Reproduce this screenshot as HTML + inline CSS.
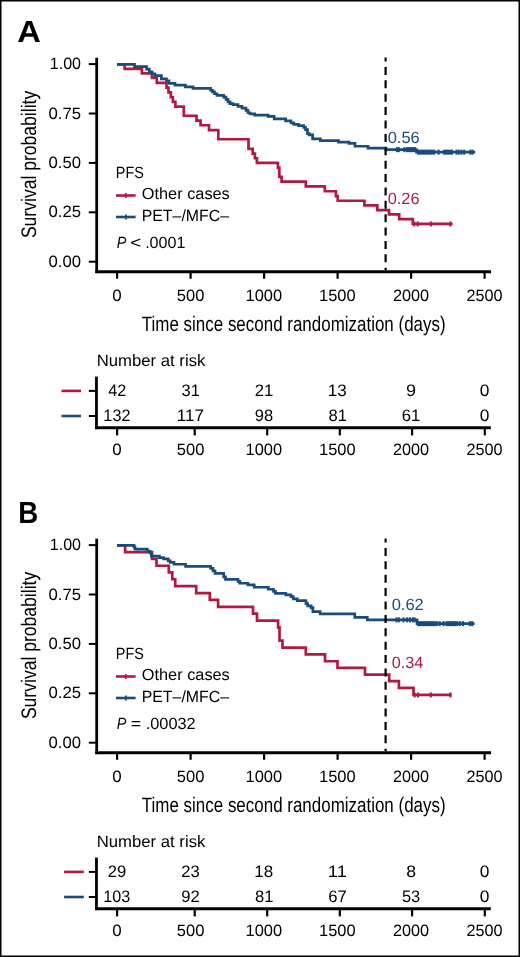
<!DOCTYPE html>
<html><head><meta charset="utf-8"><style>
html,body{margin:0;padding:0;background:#fff;}
svg{display:block;will-change:transform;}
text{font-family:"Liberation Sans",sans-serif;text-rendering:geometricPrecision;}
</style></head><body>
<svg width="520" height="957" viewBox="0 0 520 957">
<rect x="0" y="0" width="520" height="957" fill="#fff"/>
<text x="17.29" y="41.90" font-size="30.5" font-weight="bold" font-style="normal" fill="#000" textLength="23.57" lengthAdjust="spacingAndGlyphs">A</text>
<text transform="translate(35.50,237.30) rotate(-90)" x="-0.80" y="0" font-size="21" fill="#000" textLength="147.33" lengthAdjust="spacingAndGlyphs">Survival probability</text>
<line x1="88.80" y1="64.10" x2="96.50" y2="64.10" stroke="#000" stroke-width="2.0"/>
<text x="49.78" y="69.20" font-size="16.5" font-weight="normal" font-style="normal" fill="#000" textLength="31.25" lengthAdjust="spacingAndGlyphs">1.00</text>
<line x1="88.80" y1="113.50" x2="96.50" y2="113.50" stroke="#000" stroke-width="2.0"/>
<text x="48.55" y="118.60" font-size="16.5" font-weight="normal" font-style="normal" fill="#000" textLength="32.56" lengthAdjust="spacingAndGlyphs">0.75</text>
<line x1="88.80" y1="162.90" x2="96.50" y2="162.90" stroke="#000" stroke-width="2.0"/>
<text x="48.55" y="168.00" font-size="16.5" font-weight="normal" font-style="normal" fill="#000" textLength="32.50" lengthAdjust="spacingAndGlyphs">0.50</text>
<line x1="88.80" y1="212.30" x2="96.50" y2="212.30" stroke="#000" stroke-width="2.0"/>
<text x="48.55" y="217.40" font-size="16.5" font-weight="normal" font-style="normal" fill="#000" textLength="32.56" lengthAdjust="spacingAndGlyphs">0.25</text>
<line x1="88.80" y1="261.70" x2="96.50" y2="261.70" stroke="#000" stroke-width="2.0"/>
<text x="48.55" y="266.80" font-size="16.5" font-weight="normal" font-style="normal" fill="#000" textLength="32.50" lengthAdjust="spacingAndGlyphs">0.00</text>
<line x1="96.70" y1="57.70" x2="96.70" y2="273.10" stroke="#000" stroke-width="2.8"/>
<line x1="95.30" y1="271.70" x2="491.00" y2="271.70" stroke="#000" stroke-width="2.9"/>
<line x1="117.10" y1="271.00" x2="117.10" y2="278.80" stroke="#000" stroke-width="2.2"/>
<text x="112.39" y="300.50" font-size="16.5" font-weight="normal" font-style="normal" fill="#000" textLength="9.42" lengthAdjust="spacingAndGlyphs">0</text>
<line x1="190.60" y1="271.00" x2="190.60" y2="278.80" stroke="#000" stroke-width="2.2"/>
<text x="176.79" y="300.50" font-size="16.5" font-weight="normal" font-style="normal" fill="#000" textLength="27.61" lengthAdjust="spacingAndGlyphs">500</text>
<line x1="264.10" y1="271.00" x2="264.10" y2="278.80" stroke="#000" stroke-width="2.2"/>
<text x="245.50" y="300.50" font-size="16.5" font-weight="normal" font-style="normal" fill="#000" textLength="36.60" lengthAdjust="spacingAndGlyphs">1000</text>
<line x1="337.60" y1="271.00" x2="337.60" y2="278.80" stroke="#000" stroke-width="2.2"/>
<text x="319.00" y="300.50" font-size="16.5" font-weight="normal" font-style="normal" fill="#000" textLength="36.60" lengthAdjust="spacingAndGlyphs">1500</text>
<line x1="411.10" y1="271.00" x2="411.10" y2="278.80" stroke="#000" stroke-width="2.2"/>
<text x="392.93" y="300.50" font-size="16.5" font-weight="normal" font-style="normal" fill="#000" textLength="36.15" lengthAdjust="spacingAndGlyphs">2000</text>
<line x1="484.60" y1="271.00" x2="484.60" y2="278.80" stroke="#000" stroke-width="2.2"/>
<text x="466.43" y="300.50" font-size="16.5" font-weight="normal" font-style="normal" fill="#000" textLength="36.15" lengthAdjust="spacingAndGlyphs">2500</text>
<text x="141.82" y="330.50" font-size="20.9" font-weight="normal" font-style="normal" fill="#000" textLength="303.83" lengthAdjust="spacingAndGlyphs">Time since second randomization (days)</text>
<path d="M117.10,64.45H124.70V68.95H141.90V73.35H152.00V77.95H156.80V82.95H166.50V87.65H168.50V92.35H170.80V97.15H172.90V101.85H175.40V106.55H183.80V115.75H196.50V120.55H200.60V125.25H209.00V130.15H218.30V139.25H248.50V148.95H252.70V153.65H254.90V158.25H256.90V162.85H277.90V167.55H279.30V176.95H281.60V181.65H305.80V186.35H324.80V191.25H335.90V196.05H337.70V200.75H364.40V205.35H377.30V210.05H389.00V214.35H399.20V219.15H412.80V223.95H452.50" fill="none" stroke="#b01a42" stroke-width="2.7" stroke-linejoin="miter" stroke-linecap="butt"/>
<path d="M117.10,64.45H134.50V66.65H146.60V69.15H149.30V71.85H152.00V73.85H155.00V75.55H161.40V78.85H166.50V80.85H169.00V83.35H175.00V85.15H185.40V86.85H193.00V88.35H210.60V90.25H212.50V91.85H214.50V93.75H217.00V95.45H223.80V97.15H226.00V99.35H228.00V101.85H230.00V103.55H233.00V104.65H238.00V106.45H242.00V108.15H246.00V110.45H248.00V112.75H250.00V113.95H254.70V115.05H268.20V116.35H274.20V118.85H285.70V120.85H291.00V122.85H293.70V124.45H298.50V125.55H303.80V127.35H305.50V129.55H307.50V133.65H309.20V134.95H312.60V138.95H320.40V140.55H338.50V142.15H349.00V143.35H355.00V146.25H368.00V148.15H386.00V149.65H416.50V152.15H475.20" fill="none" stroke="#1a4c7a" stroke-width="2.7" stroke-linejoin="miter" stroke-linecap="butt"/>
<line x1="414.30" y1="221.45" x2="414.30" y2="226.45" stroke="#b01a42" stroke-width="2.1"/>
<line x1="417.70" y1="221.45" x2="417.70" y2="226.45" stroke="#b01a42" stroke-width="2.1"/>
<line x1="430.90" y1="221.45" x2="430.90" y2="226.45" stroke="#b01a42" stroke-width="2.1"/>
<line x1="450.50" y1="221.45" x2="450.50" y2="226.45" stroke="#b01a42" stroke-width="2.1"/>
<line x1="397.00" y1="147.15" x2="397.00" y2="152.15" stroke="#1a4c7a" stroke-width="2.1"/>
<line x1="398.80" y1="147.15" x2="398.80" y2="152.15" stroke="#1a4c7a" stroke-width="2.1"/>
<line x1="404.40" y1="147.15" x2="404.40" y2="152.15" stroke="#1a4c7a" stroke-width="2.1"/>
<line x1="407.00" y1="147.15" x2="407.00" y2="152.15" stroke="#1a4c7a" stroke-width="2.1"/>
<line x1="408.60" y1="147.15" x2="408.60" y2="152.15" stroke="#1a4c7a" stroke-width="2.1"/>
<line x1="410.20" y1="147.15" x2="410.20" y2="152.15" stroke="#1a4c7a" stroke-width="2.1"/>
<line x1="411.80" y1="147.15" x2="411.80" y2="152.15" stroke="#1a4c7a" stroke-width="2.1"/>
<line x1="413.40" y1="147.15" x2="413.40" y2="152.15" stroke="#1a4c7a" stroke-width="2.1"/>
<line x1="415.00" y1="147.15" x2="415.00" y2="152.15" stroke="#1a4c7a" stroke-width="2.1"/>
<line x1="434.20" y1="149.65" x2="434.20" y2="154.65" stroke="#1a4c7a" stroke-width="2.1"/>
<line x1="438.60" y1="149.65" x2="438.60" y2="154.65" stroke="#1a4c7a" stroke-width="2.1"/>
<line x1="456.60" y1="149.65" x2="456.60" y2="154.65" stroke="#1a4c7a" stroke-width="2.1"/>
<line x1="458.80" y1="149.65" x2="458.80" y2="154.65" stroke="#1a4c7a" stroke-width="2.1"/>
<line x1="461.50" y1="149.65" x2="461.50" y2="154.65" stroke="#1a4c7a" stroke-width="2.1"/>
<line x1="464.20" y1="149.65" x2="464.20" y2="154.65" stroke="#1a4c7a" stroke-width="2.1"/>
<line x1="470.30" y1="149.65" x2="470.30" y2="154.65" stroke="#1a4c7a" stroke-width="2.1"/>
<line x1="472.50" y1="149.65" x2="472.50" y2="154.65" stroke="#1a4c7a" stroke-width="2.1"/>
<rect x="417.00" y="149.65" width="16.00" height="5.00" fill="#1a4c7a"/>
<rect x="443.00" y="149.65" width="10.00" height="5.00" fill="#1a4c7a"/>
<line x1="385.60" y1="57.50" x2="385.60" y2="270.00" stroke="#000" stroke-width="2.2" stroke-dasharray="8 5.38" stroke-dashoffset="3.9"/>
<text x="387.66" y="142.85" font-size="16.2" font-weight="normal" font-style="normal" fill="#1a4c7a" textLength="32.07" lengthAdjust="spacingAndGlyphs">0.56</text>
<text x="387.66" y="204.45" font-size="16.2" font-weight="normal" font-style="normal" fill="#b01a42" textLength="31.86" lengthAdjust="spacingAndGlyphs">0.26</text>
<text x="115.82" y="177.90" font-size="16.2" font-weight="normal" font-style="normal" fill="#000" textLength="28.04" lengthAdjust="spacingAndGlyphs">PFS</text>
<line x1="116.00" y1="195.50" x2="135.60" y2="195.50" stroke="#b01a42" stroke-width="2.6"/>
<line x1="125.90" y1="193.10" x2="125.90" y2="198.00" stroke="#b01a42" stroke-width="1.8"/>
<text x="141.83" y="199.40" font-size="16.2" font-weight="normal" font-style="normal" fill="#000" textLength="87.96" lengthAdjust="spacingAndGlyphs">Other cases</text>
<line x1="116.00" y1="217.00" x2="135.60" y2="217.00" stroke="#1a4c7a" stroke-width="2.6"/>
<line x1="125.90" y1="214.60" x2="125.90" y2="219.40" stroke="#1a4c7a" stroke-width="1.8"/>
<text x="141.70" y="220.60" font-size="16.2" font-weight="normal" font-style="normal" fill="#000" textLength="87.31" lengthAdjust="spacingAndGlyphs">PET–/MFC–</text>
<text x="116.76" y="248.20" font-size="16.2" font-weight="normal" font-style="italic" fill="#000" textLength="9.64" lengthAdjust="spacingAndGlyphs">P</text>
<text x="130.17" y="248.00" font-size="16.2" font-weight="normal" font-style="normal" fill="#000" textLength="11.06" lengthAdjust="spacingAndGlyphs"><</text>
<text x="145.13" y="248.20" font-size="16.2" font-weight="normal" font-style="normal" fill="#000" textLength="40.25" lengthAdjust="spacingAndGlyphs">.0001</text>
<text x="96.73" y="365.80" font-size="16.5" font-weight="normal" font-style="normal" fill="#000" textLength="108.65" lengthAdjust="spacingAndGlyphs">Number at risk</text>
<line x1="96.45" y1="376.60" x2="96.45" y2="429.10" stroke="#000" stroke-width="2.8"/>
<line x1="95.05" y1="427.70" x2="490.80" y2="427.70" stroke="#000" stroke-width="2.9"/>
<line x1="88.80" y1="390.90" x2="96.50" y2="390.90" stroke="#000" stroke-width="2.0"/>
<line x1="88.80" y1="416.00" x2="96.50" y2="416.00" stroke="#000" stroke-width="2.0"/>
<line x1="61.50" y1="390.90" x2="81.00" y2="390.90" stroke="#b01a42" stroke-width="2.6"/>
<line x1="61.50" y1="416.00" x2="81.00" y2="416.00" stroke="#1a4c7a" stroke-width="2.6"/>
<text x="108.28" y="395.70" font-size="16.6" font-weight="normal" font-style="normal" fill="#000" textLength="18.09" lengthAdjust="spacingAndGlyphs">42</text>
<text x="103.37" y="420.50" font-size="16.6" font-weight="normal" font-style="normal" fill="#000" textLength="27.05" lengthAdjust="spacingAndGlyphs">132</text>
<line x1="117.10" y1="427.00" x2="117.10" y2="435.40" stroke="#000" stroke-width="2.2"/>
<text x="112.39" y="454.50" font-size="16.5" font-weight="normal" font-style="normal" fill="#000" textLength="9.42" lengthAdjust="spacingAndGlyphs">0</text>
<text x="181.52" y="395.70" font-size="16.6" font-weight="normal" font-style="normal" fill="#000" textLength="18.33" lengthAdjust="spacingAndGlyphs">31</text>
<text x="176.87" y="420.50" font-size="16.6" font-weight="normal" font-style="normal" fill="#000" textLength="27.05" lengthAdjust="spacingAndGlyphs">117</text>
<line x1="194.70" y1="427.00" x2="194.70" y2="435.40" stroke="#000" stroke-width="2.2"/>
<text x="176.79" y="454.50" font-size="16.5" font-weight="normal" font-style="normal" fill="#000" textLength="27.61" lengthAdjust="spacingAndGlyphs">500</text>
<text x="254.81" y="395.70" font-size="16.6" font-weight="normal" font-style="normal" fill="#000" textLength="18.55" lengthAdjust="spacingAndGlyphs">21</text>
<text x="254.87" y="420.50" font-size="16.6" font-weight="normal" font-style="normal" fill="#000" textLength="18.39" lengthAdjust="spacingAndGlyphs">98</text>
<line x1="267.20" y1="427.00" x2="267.20" y2="435.40" stroke="#000" stroke-width="2.2"/>
<text x="245.50" y="454.50" font-size="16.5" font-weight="normal" font-style="normal" fill="#000" textLength="36.60" lengthAdjust="spacingAndGlyphs">1000</text>
<text x="327.85" y="395.70" font-size="16.6" font-weight="normal" font-style="normal" fill="#000" textLength="18.95" lengthAdjust="spacingAndGlyphs">13</text>
<text x="328.43" y="420.50" font-size="16.6" font-weight="normal" font-style="normal" fill="#000" textLength="18.43" lengthAdjust="spacingAndGlyphs">81</text>
<line x1="339.80" y1="427.00" x2="339.80" y2="435.40" stroke="#000" stroke-width="2.2"/>
<text x="319.00" y="454.50" font-size="16.5" font-weight="normal" font-style="normal" fill="#000" textLength="36.60" lengthAdjust="spacingAndGlyphs">1500</text>
<text x="406.11" y="395.70" font-size="16.6" font-weight="normal" font-style="normal" fill="#000" textLength="9.99" lengthAdjust="spacingAndGlyphs">9</text>
<text x="401.80" y="420.50" font-size="16.6" font-weight="normal" font-style="normal" fill="#000" textLength="18.56" lengthAdjust="spacingAndGlyphs">61</text>
<line x1="412.10" y1="427.00" x2="412.10" y2="435.40" stroke="#000" stroke-width="2.2"/>
<text x="392.93" y="454.50" font-size="16.5" font-weight="normal" font-style="normal" fill="#000" textLength="36.15" lengthAdjust="spacingAndGlyphs">2000</text>
<text x="479.77" y="395.70" font-size="16.6" font-weight="normal" font-style="normal" fill="#000" textLength="9.66" lengthAdjust="spacingAndGlyphs">0</text>
<text x="479.77" y="420.50" font-size="16.6" font-weight="normal" font-style="normal" fill="#000" textLength="9.66" lengthAdjust="spacingAndGlyphs">0</text>
<line x1="484.80" y1="427.00" x2="484.80" y2="435.40" stroke="#000" stroke-width="2.2"/>
<text x="466.43" y="454.50" font-size="16.5" font-weight="normal" font-style="normal" fill="#000" textLength="36.15" lengthAdjust="spacingAndGlyphs">2500</text>
<text x="18.15" y="522.80" font-size="30.5" font-weight="bold" font-style="normal" fill="#000" textLength="20.01" lengthAdjust="spacingAndGlyphs">B</text>
<text transform="translate(35.50,718.30) rotate(-90)" x="-0.80" y="0" font-size="21" fill="#000" textLength="147.33" lengthAdjust="spacingAndGlyphs">Survival probability</text>
<line x1="88.80" y1="545.10" x2="96.50" y2="545.10" stroke="#000" stroke-width="2.0"/>
<text x="49.78" y="550.20" font-size="16.5" font-weight="normal" font-style="normal" fill="#000" textLength="31.25" lengthAdjust="spacingAndGlyphs">1.00</text>
<line x1="88.80" y1="594.50" x2="96.50" y2="594.50" stroke="#000" stroke-width="2.0"/>
<text x="48.55" y="599.60" font-size="16.5" font-weight="normal" font-style="normal" fill="#000" textLength="32.56" lengthAdjust="spacingAndGlyphs">0.75</text>
<line x1="88.80" y1="643.90" x2="96.50" y2="643.90" stroke="#000" stroke-width="2.0"/>
<text x="48.55" y="649.00" font-size="16.5" font-weight="normal" font-style="normal" fill="#000" textLength="32.50" lengthAdjust="spacingAndGlyphs">0.50</text>
<line x1="88.80" y1="693.30" x2="96.50" y2="693.30" stroke="#000" stroke-width="2.0"/>
<text x="48.55" y="698.40" font-size="16.5" font-weight="normal" font-style="normal" fill="#000" textLength="32.56" lengthAdjust="spacingAndGlyphs">0.25</text>
<line x1="88.80" y1="742.70" x2="96.50" y2="742.70" stroke="#000" stroke-width="2.0"/>
<text x="48.55" y="747.80" font-size="16.5" font-weight="normal" font-style="normal" fill="#000" textLength="32.50" lengthAdjust="spacingAndGlyphs">0.00</text>
<line x1="96.70" y1="538.70" x2="96.70" y2="754.10" stroke="#000" stroke-width="2.8"/>
<line x1="95.30" y1="752.70" x2="491.00" y2="752.70" stroke="#000" stroke-width="2.9"/>
<line x1="117.10" y1="752.00" x2="117.10" y2="759.80" stroke="#000" stroke-width="2.2"/>
<text x="112.39" y="781.50" font-size="16.5" font-weight="normal" font-style="normal" fill="#000" textLength="9.42" lengthAdjust="spacingAndGlyphs">0</text>
<line x1="190.60" y1="752.00" x2="190.60" y2="759.80" stroke="#000" stroke-width="2.2"/>
<text x="176.79" y="781.50" font-size="16.5" font-weight="normal" font-style="normal" fill="#000" textLength="27.61" lengthAdjust="spacingAndGlyphs">500</text>
<line x1="264.10" y1="752.00" x2="264.10" y2="759.80" stroke="#000" stroke-width="2.2"/>
<text x="245.50" y="781.50" font-size="16.5" font-weight="normal" font-style="normal" fill="#000" textLength="36.60" lengthAdjust="spacingAndGlyphs">1000</text>
<line x1="337.60" y1="752.00" x2="337.60" y2="759.80" stroke="#000" stroke-width="2.2"/>
<text x="319.00" y="781.50" font-size="16.5" font-weight="normal" font-style="normal" fill="#000" textLength="36.60" lengthAdjust="spacingAndGlyphs">1500</text>
<line x1="411.10" y1="752.00" x2="411.10" y2="759.80" stroke="#000" stroke-width="2.2"/>
<text x="392.93" y="781.50" font-size="16.5" font-weight="normal" font-style="normal" fill="#000" textLength="36.15" lengthAdjust="spacingAndGlyphs">2000</text>
<line x1="484.60" y1="752.00" x2="484.60" y2="759.80" stroke="#000" stroke-width="2.2"/>
<text x="466.43" y="781.50" font-size="16.5" font-weight="normal" font-style="normal" fill="#000" textLength="36.15" lengthAdjust="spacingAndGlyphs">2500</text>
<text x="141.82" y="811.50" font-size="20.9" font-weight="normal" font-style="normal" fill="#000" textLength="303.83" lengthAdjust="spacingAndGlyphs">Time since second randomization (days)</text>
<path d="M117.10,545.45H125.10V552.05H152.00V558.95H156.50V565.75H168.80V572.35H172.30V579.25H175.20V586.15H196.20V593.05H209.80V599.95H218.10V606.85H253.00V613.65H257.00V620.65H278.10V627.35H279.50V640.65H282.50V647.55H305.80V654.35H325.00V661.25H337.50V667.95H365.00V674.65H389.20V681.15H398.90V687.95H413.50V694.95H451.50" fill="none" stroke="#b01a42" stroke-width="2.7" stroke-linejoin="miter" stroke-linecap="butt"/>
<path d="M117.10,545.45H134.00V547.15H135.00V549.05H147.30V551.15H150.00V552.85H151.30V556.15H159.40V557.55H163.50V558.85H168.20V560.85H170.20V562.45H174.00V564.25H185.60V566.35H210.60V568.35H213.00V570.95H215.00V573.45H223.70V576.85H225.50V579.45H238.00V581.45H239.80V583.25H247.90V584.95H254.20V587.25H268.30V589.25H273.50V591.45H275.40V593.45H285.80V594.85H291.00V596.65H293.30V598.95H297.30V600.65H306.00V603.55H307.70V605.85H311.10V607.55H312.90V611.65H320.20V613.95H354.80V617.45H367.30V619.85H417.00V623.65H474.60" fill="none" stroke="#1a4c7a" stroke-width="2.7" stroke-linejoin="miter" stroke-linecap="butt"/>
<line x1="414.60" y1="692.45" x2="414.60" y2="697.45" stroke="#b01a42" stroke-width="2.1"/>
<line x1="418.00" y1="692.45" x2="418.00" y2="697.45" stroke="#b01a42" stroke-width="2.1"/>
<line x1="430.80" y1="692.45" x2="430.80" y2="697.45" stroke="#b01a42" stroke-width="2.1"/>
<line x1="450.50" y1="692.45" x2="450.50" y2="697.45" stroke="#b01a42" stroke-width="2.1"/>
<line x1="396.50" y1="617.35" x2="396.50" y2="622.35" stroke="#1a4c7a" stroke-width="2.1"/>
<line x1="398.80" y1="617.35" x2="398.80" y2="622.35" stroke="#1a4c7a" stroke-width="2.1"/>
<line x1="403.50" y1="617.35" x2="403.50" y2="622.35" stroke="#1a4c7a" stroke-width="2.1"/>
<line x1="407.20" y1="617.35" x2="407.20" y2="622.35" stroke="#1a4c7a" stroke-width="2.1"/>
<line x1="410.10" y1="617.35" x2="410.10" y2="622.35" stroke="#1a4c7a" stroke-width="2.1"/>
<line x1="412.80" y1="617.35" x2="412.80" y2="622.35" stroke="#1a4c7a" stroke-width="2.1"/>
<line x1="414.50" y1="617.35" x2="414.50" y2="622.35" stroke="#1a4c7a" stroke-width="2.1"/>
<line x1="436.80" y1="621.15" x2="436.80" y2="626.15" stroke="#1a4c7a" stroke-width="2.1"/>
<line x1="439.70" y1="621.15" x2="439.70" y2="626.15" stroke="#1a4c7a" stroke-width="2.1"/>
<line x1="443.50" y1="621.15" x2="443.50" y2="626.15" stroke="#1a4c7a" stroke-width="2.1"/>
<line x1="457.20" y1="621.15" x2="457.20" y2="626.15" stroke="#1a4c7a" stroke-width="2.1"/>
<line x1="459.80" y1="621.15" x2="459.80" y2="626.15" stroke="#1a4c7a" stroke-width="2.1"/>
<line x1="463.00" y1="621.15" x2="463.00" y2="626.15" stroke="#1a4c7a" stroke-width="2.1"/>
<line x1="469.80" y1="621.15" x2="469.80" y2="626.15" stroke="#1a4c7a" stroke-width="2.1"/>
<line x1="472.20" y1="621.15" x2="472.20" y2="626.15" stroke="#1a4c7a" stroke-width="2.1"/>
<rect x="417.00" y="621.15" width="18.80" height="5.00" fill="#1a4c7a"/>
<rect x="445.50" y="621.15" width="10.50" height="5.00" fill="#1a4c7a"/>
<line x1="385.60" y1="538.50" x2="385.60" y2="751.00" stroke="#000" stroke-width="2.2" stroke-dasharray="8 5.38" stroke-dashoffset="3.9"/>
<text x="391.65" y="609.85" font-size="16.2" font-weight="normal" font-style="normal" fill="#1a4c7a" textLength="32.18" lengthAdjust="spacingAndGlyphs">0.62</text>
<text x="391.67" y="667.55" font-size="16.2" font-weight="normal" font-style="normal" fill="#b01a42" textLength="31.61" lengthAdjust="spacingAndGlyphs">0.34</text>
<text x="115.82" y="658.90" font-size="16.2" font-weight="normal" font-style="normal" fill="#000" textLength="28.04" lengthAdjust="spacingAndGlyphs">PFS</text>
<line x1="116.00" y1="676.50" x2="135.60" y2="676.50" stroke="#b01a42" stroke-width="2.6"/>
<line x1="125.90" y1="674.10" x2="125.90" y2="679.00" stroke="#b01a42" stroke-width="1.8"/>
<text x="141.83" y="680.40" font-size="16.2" font-weight="normal" font-style="normal" fill="#000" textLength="87.96" lengthAdjust="spacingAndGlyphs">Other cases</text>
<line x1="116.00" y1="698.00" x2="135.60" y2="698.00" stroke="#1a4c7a" stroke-width="2.6"/>
<line x1="125.90" y1="695.60" x2="125.90" y2="700.40" stroke="#1a4c7a" stroke-width="1.8"/>
<text x="141.70" y="701.60" font-size="16.2" font-weight="normal" font-style="normal" fill="#000" textLength="87.31" lengthAdjust="spacingAndGlyphs">PET–/MFC–</text>
<text x="116.76" y="729.20" font-size="16.2" font-weight="normal" font-style="italic" fill="#000" textLength="9.64" lengthAdjust="spacingAndGlyphs">P</text>
<text x="130.73" y="729.20" font-size="16.2" font-weight="normal" font-style="normal" fill="#000" textLength="10.46" lengthAdjust="spacingAndGlyphs">=</text>
<text x="145.71" y="729.20" font-size="16.2" font-weight="normal" font-style="normal" fill="#000" textLength="49.91" lengthAdjust="spacingAndGlyphs">.00032</text>
<text x="96.73" y="846.80" font-size="16.5" font-weight="normal" font-style="normal" fill="#000" textLength="108.65" lengthAdjust="spacingAndGlyphs">Number at risk</text>
<line x1="96.45" y1="857.60" x2="96.45" y2="910.10" stroke="#000" stroke-width="2.8"/>
<line x1="95.05" y1="908.70" x2="490.80" y2="908.70" stroke="#000" stroke-width="2.9"/>
<line x1="88.80" y1="871.90" x2="96.50" y2="871.90" stroke="#000" stroke-width="2.0"/>
<line x1="88.80" y1="897.00" x2="96.50" y2="897.00" stroke="#000" stroke-width="2.0"/>
<line x1="64.10" y1="871.90" x2="83.80" y2="871.90" stroke="#b01a42" stroke-width="2.6"/>
<line x1="64.10" y1="897.00" x2="83.80" y2="897.00" stroke="#1a4c7a" stroke-width="2.6"/>
<text x="107.81" y="876.70" font-size="16.6" font-weight="normal" font-style="normal" fill="#000" textLength="18.53" lengthAdjust="spacingAndGlyphs">29</text>
<text x="103.37" y="901.50" font-size="16.6" font-weight="normal" font-style="normal" fill="#000" textLength="26.94" lengthAdjust="spacingAndGlyphs">103</text>
<line x1="117.10" y1="908.00" x2="117.10" y2="916.40" stroke="#000" stroke-width="2.2"/>
<text x="112.39" y="935.50" font-size="16.5" font-weight="normal" font-style="normal" fill="#000" textLength="9.42" lengthAdjust="spacingAndGlyphs">0</text>
<text x="181.32" y="876.70" font-size="16.6" font-weight="normal" font-style="normal" fill="#000" textLength="18.46" lengthAdjust="spacingAndGlyphs">23</text>
<text x="181.37" y="901.50" font-size="16.6" font-weight="normal" font-style="normal" fill="#000" textLength="18.52" lengthAdjust="spacingAndGlyphs">92</text>
<line x1="194.70" y1="908.00" x2="194.70" y2="916.40" stroke="#000" stroke-width="2.2"/>
<text x="176.79" y="935.50" font-size="16.5" font-weight="normal" font-style="normal" fill="#000" textLength="27.61" lengthAdjust="spacingAndGlyphs">500</text>
<text x="254.35" y="876.70" font-size="16.6" font-weight="normal" font-style="normal" fill="#000" textLength="18.94" lengthAdjust="spacingAndGlyphs">18</text>
<text x="254.93" y="901.50" font-size="16.6" font-weight="normal" font-style="normal" fill="#000" textLength="18.43" lengthAdjust="spacingAndGlyphs">81</text>
<line x1="267.20" y1="908.00" x2="267.20" y2="916.40" stroke="#000" stroke-width="2.2"/>
<text x="245.50" y="935.50" font-size="16.5" font-weight="normal" font-style="normal" fill="#000" textLength="36.60" lengthAdjust="spacingAndGlyphs">1000</text>
<text x="327.85" y="876.70" font-size="16.6" font-weight="normal" font-style="normal" fill="#000" textLength="19.04" lengthAdjust="spacingAndGlyphs">11</text>
<text x="328.30" y="901.50" font-size="16.6" font-weight="normal" font-style="normal" fill="#000" textLength="18.59" lengthAdjust="spacingAndGlyphs">67</text>
<line x1="339.80" y1="908.00" x2="339.80" y2="916.40" stroke="#000" stroke-width="2.2"/>
<text x="319.00" y="935.50" font-size="16.5" font-weight="normal" font-style="normal" fill="#000" textLength="36.60" lengthAdjust="spacingAndGlyphs">1500</text>
<text x="406.18" y="876.70" font-size="16.6" font-weight="normal" font-style="normal" fill="#000" textLength="9.84" lengthAdjust="spacingAndGlyphs">8</text>
<text x="401.99" y="901.50" font-size="16.6" font-weight="normal" font-style="normal" fill="#000" textLength="18.28" lengthAdjust="spacingAndGlyphs">53</text>
<line x1="412.10" y1="908.00" x2="412.10" y2="916.40" stroke="#000" stroke-width="2.2"/>
<text x="392.93" y="935.50" font-size="16.5" font-weight="normal" font-style="normal" fill="#000" textLength="36.15" lengthAdjust="spacingAndGlyphs">2000</text>
<text x="479.77" y="876.70" font-size="16.6" font-weight="normal" font-style="normal" fill="#000" textLength="9.66" lengthAdjust="spacingAndGlyphs">0</text>
<text x="479.77" y="901.50" font-size="16.6" font-weight="normal" font-style="normal" fill="#000" textLength="9.66" lengthAdjust="spacingAndGlyphs">0</text>
<line x1="484.80" y1="908.00" x2="484.80" y2="916.40" stroke="#000" stroke-width="2.2"/>
<text x="466.43" y="935.50" font-size="16.5" font-weight="normal" font-style="normal" fill="#000" textLength="36.15" lengthAdjust="spacingAndGlyphs">2500</text>
<rect x="0" y="0" width="520" height="957" fill="none" stroke="#000" stroke-width="3"/>
</svg>
</body></html>
